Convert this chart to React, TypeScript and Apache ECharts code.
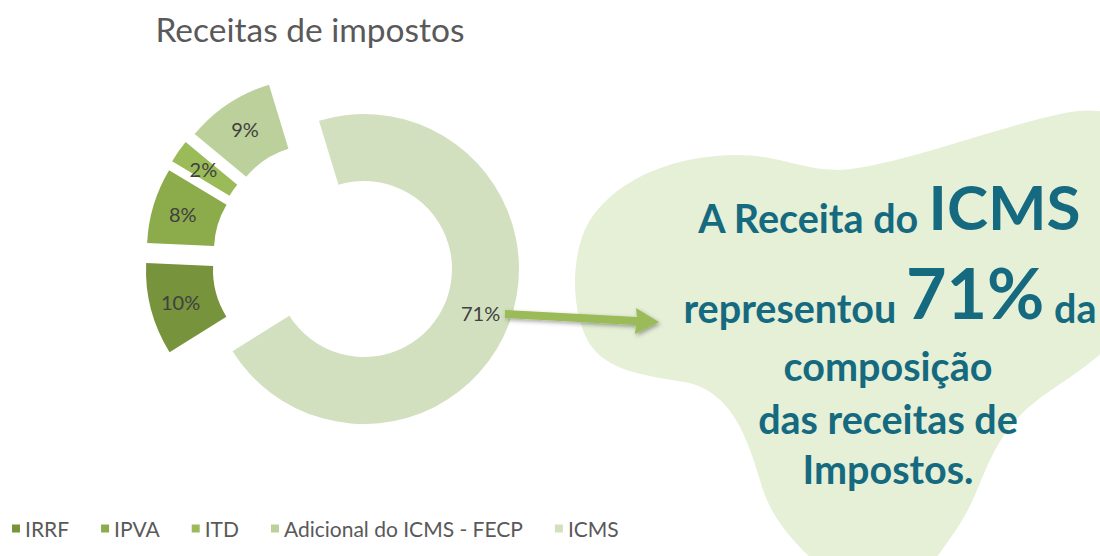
import React, { useEffect, useRef } from "react";
import * as echarts from "echarts";

// ---- data ----
const categories = ["IRRF", "IPVA", "ITD", "Adicional do ICMS - FECP", "ICMS"];
const shares = [9.6, 7.9, 2.4, 9.3, 70.8];
const titleText = "Receitas de impostos";
const calloutLines = ["A Receita do ", "ICMS", "representou ", "71%", " da", "composição", "das receitas de", "Impostos."];

// ---- styles / layout ----
const sliceColors = ["#77933C", "#8CAC4C", "#9BBB59", "#BBD09A", "#D2E0BF"];
const sliceCenters: [number, number][] = [
  [301, 270],
  [302, 250],
  [305, 241],
  [314, 233],
  [364, 269],
];
const teal = "#156A80";
const FONT = "Lato, 'Open Sans', sans-serif";

const blobPath =
  "M737 155 C780 155 800 170 840 170 C900 165 980 132 1060 114 C1100 105 1130 112 1140 150 L1140 300 " +
  "C1130 340 1080 370 1040 398 C1000 428 990 460 975 495 C960 530 940 550 925 575 L830 575 " +
  "C800 550 770 520 760 480 C745 430 730 395 690 383 C640 375 600 370 585 335 " +
  "C570 300 572 250 590 220 C620 175 680 155 737 155 Z";

let registered = false;

export default function App() {
  const ref = useRef<HTMLDivElement>(null);
  useEffect(() => {
    document.body.style.margin = "0";
    if (!registered) {
      echarts.graphic.registerShape("blob", echarts.graphic.extendPath(blobPath, {}) as any);
      registered = true;
    }
    const chart = echarts.init(ref.current!, undefined, { renderer: "svg" });

    const series = categories.map((_, si) => ({
      type: "pie",
      name: categories[si],
      center: sliceCenters[si],
      radius: [88, 155],
      startAngle: 212,
      clockwise: true,
      silent: true,
      z: 2,
      labelLine: { show: false },
      emphasis: { disabled: true },
      data: categories.map((c, i) => ({
        name: c,
        value: shares[i],
        itemStyle: { color: i === si ? sliceColors[i] : "rgba(0,0,0,0)" },
        label: {
          show: i === si,
          position: "inside",
          formatter: (p: any) => Math.round(p.percent) + "%",
          fontFamily: FONT,
          fontSize: 20,
          color: "#404040",
        },
      })),
    }));

    chart.setOption({
      animation: false,
      title: {
        text: titleText,
        left: 310,
        top: 12,
        padding: 0,
        textAlign: "center",
        textStyle: { fontFamily: FONT, fontSize: 33.5, fontWeight: "normal", color: "#595959" },
      },
      legend: {
        left: 12,
        top: 518,
        padding: 0,
        icon: "rect",
        itemWidth: 8,
        itemHeight: 8,
        itemGap: 32,
        selectedMode: false,
        textStyle: { fontFamily: FONT, fontSize: 21, color: "#595959" },
        data: categories.map((c, i) => ({ name: c, itemStyle: { color: sliceColors[i] } })),
      },
      series,
      graphic: [
        {
          type: "blob",
          x: 0,
          y: 0,
          z: 1,
          silent: true,
          style: { fill: "#E5F0D7" },
        },
        {
          type: "polygon",
          z: 100,
          silent: true,
          shape: {
            points: [
              [505, 310],
              [637, 317],
              [636, 308],
              [659, 322],
              [635, 334],
              [636, 325],
              [505, 318],
            ],
          },
          style: {
            fill: "#9BBB59",
            shadowBlur: 4,
            shadowColor: "rgba(0,0,0,0.35)",
            shadowOffsetX: 1.5,
            shadowOffsetY: 2,
          },
        },
        {
          type: "text",
          x: 889,
          y: 206,
          z: 101,
          silent: true,
          style: {
            text: "{a|" + calloutLines[0] + "}{b|" + calloutLines[1] + "}",
            align: "center",
            verticalAlign: "middle",
            rich: {
              a: { fontFamily: FONT, fontSize: 39.5, fontWeight: "bold", fill: teal, verticalAlign: "bottom" },
              b: { fontFamily: FONT, fontSize: 62, fontWeight: "bold", fill: teal, verticalAlign: "bottom" },
            },
          },
        },
        {
          type: "text",
          x: 890,
          y: 292,
          z: 101,
          silent: true,
          style: {
            text: "{a|" + calloutLines[2] + "}{b|" + calloutLines[3] + "}{a|" + calloutLines[4] + "}",
            align: "center",
            verticalAlign: "middle",
            rich: {
              a: { fontFamily: FONT, fontSize: 39.5, fontWeight: "bold", fill: teal, verticalAlign: "bottom" },
              b: { fontFamily: FONT, fontSize: 70, fontWeight: "bold", fill: teal, verticalAlign: "bottom" },
            },
          },
        },
        ...[5, 6, 7].map((li, k) => ({
          type: "text",
          x: 888,
          y: [365, 418, 468][k],
          z: 101,
          silent: true,
          style: {
            text: calloutLines[li],
            align: "center",
            verticalAlign: "middle",
            fontFamily: FONT,
            fontSize: 39.5,
            fontWeight: "bold",
            fill: teal,
          },
        })),
      ],
    });
    return () => chart.dispose();
  }, []);
  return <div ref={ref} style={{ width: 1100, height: 556 }} />;
}
